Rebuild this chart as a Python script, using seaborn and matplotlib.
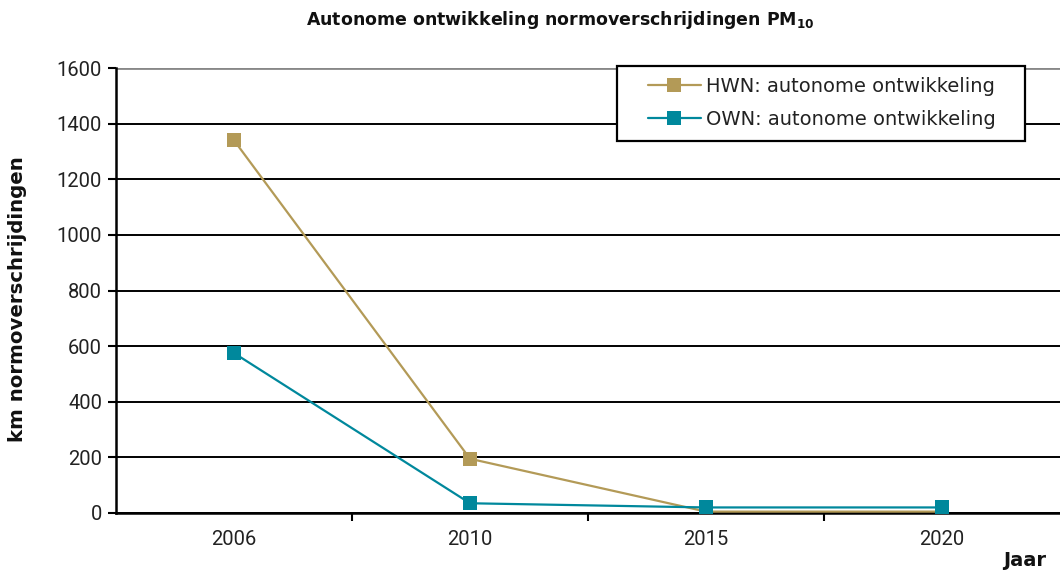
import matplotlib
matplotlib.use("Agg")
import matplotlib.pyplot as plt
import seaborn as sns
import pandas as pd
from matplotlib.ticker import FixedLocator
from matplotlib.patches import Rectangle

years = ["2006", "2010", "2015", "2020"]
hwn = [1340, 195, 5, 5]
own = [575, 35, 20, 20]
series_names = ["HWN: autonome ontwikkeling", "OWN: autonome ontwikkeling"]
colors = ["#B39A57", "#00889C"]
y_ticks = [0, 200, 400, 600, 800, 1000, 1200, 1400, 1600]

df = pd.DataFrame({
    "Jaar": years * 2,
    "km": hwn + own,
    "serie": [series_names[0]] * 4 + [series_names[1]] * 4,
})

sns.set_style("white")
plt.rcParams["font.family"] = ["Roboto", "DejaVu Sans"]

W, H = 1060, 573
fig = plt.figure(figsize=(W / 100, H / 100), dpi=100)
ax = fig.add_axes([116 / W, 1 - 513 / H, 1 - 116 / W, (513 - 68) / H])

sns.lineplot(data=df, x="Jaar", y="km", hue="serie", palette=colors,
             marker="s", markersize=9.5, markeredgewidth=0, linewidth=1.6,
             ax=ax, zorder=3)

ax.set_xlim(-0.5, 3.5)
ax.set_ylim(0, 1600)
ax.set_yticks(y_ticks)
ax.set_xticks(range(len(years)))
ax.set_xticklabels(years)
ax.xaxis.set_minor_locator(FixedLocator([0.5, 1.5, 2.5]))
ax.tick_params(axis="x", which="major", length=0, pad=12, labelsize=14.5, colors="#222222")
ax.tick_params(axis="x", which="minor", length=6, width=1.5, direction="out", color="black", bottom=True)
ax.tick_params(axis="y", length=6, width=1.5, direction="out", color="black", left=True,
               labelsize=14.5, labelcolor="#222222", pad=4)

ax.grid(axis="y", color="black", linewidth=1.4, zorder=0)
ax.set_axisbelow(True)
gl = ax.get_ygridlines()
gl[-1].set_color("#888888")
gl[-1].set_linewidth(2)

for side in ["top", "right"]:
    ax.spines[side].set_visible(False)
for side in ["left", "bottom"]:
    ax.spines[side].set_color("black")
    ax.spines[side].set_linewidth(1.8)

ax.set_xlabel("")
ax.set_ylabel("")
bold_font = ["DejaVu Sans"]
fig.text(18 / W, 1 - 299 / H, "km normoverschrijdingen", rotation=90,
         ha="center", va="center", fontsize=14.2, fontweight="bold",
         color="#111111", family=bold_font)
fig.text(1046 / W, 1 - 560 / H, "Jaar", ha="right", va="center",
         fontsize=14, fontweight="bold", color="#111111", family=bold_font)
fig.text(560 / W, 1 - 20 / H, r"Autonome ontwikkeling normoverschrijdingen PM$_{\mathbf{10}}$",
         ha="center", va="center", fontsize=12.5, fontweight="bold",
         color="#111111", family=bold_font)

# legend box with a square black frame
fig.patches.append(Rectangle((617 / W, 1 - 141 / H), (1025 - 617) / W, (141 - 66) / H,
                             transform=fig.transFigure, facecolor="white",
                             edgecolor="black", linewidth=1.6, zorder=4))
handles, labels = ax.get_legend_handles_labels()
ax.get_legend().remove()
leg = fig.legend(handles, labels, loc="center left",
                 bbox_to_anchor=(648 / W, 1 - 103 / H),
                 frameon=False, fontsize=14, handlelength=2.7,
                 borderpad=0, labelspacing=0.75, handletextpad=0.3, borderaxespad=0,
                 prop={"family": "DejaVu Sans", "size": 14})
leg.set_zorder(5)
for t in leg.get_texts():
    t.set_color("#222222")

fig.savefig("out.png", dpi=100)
